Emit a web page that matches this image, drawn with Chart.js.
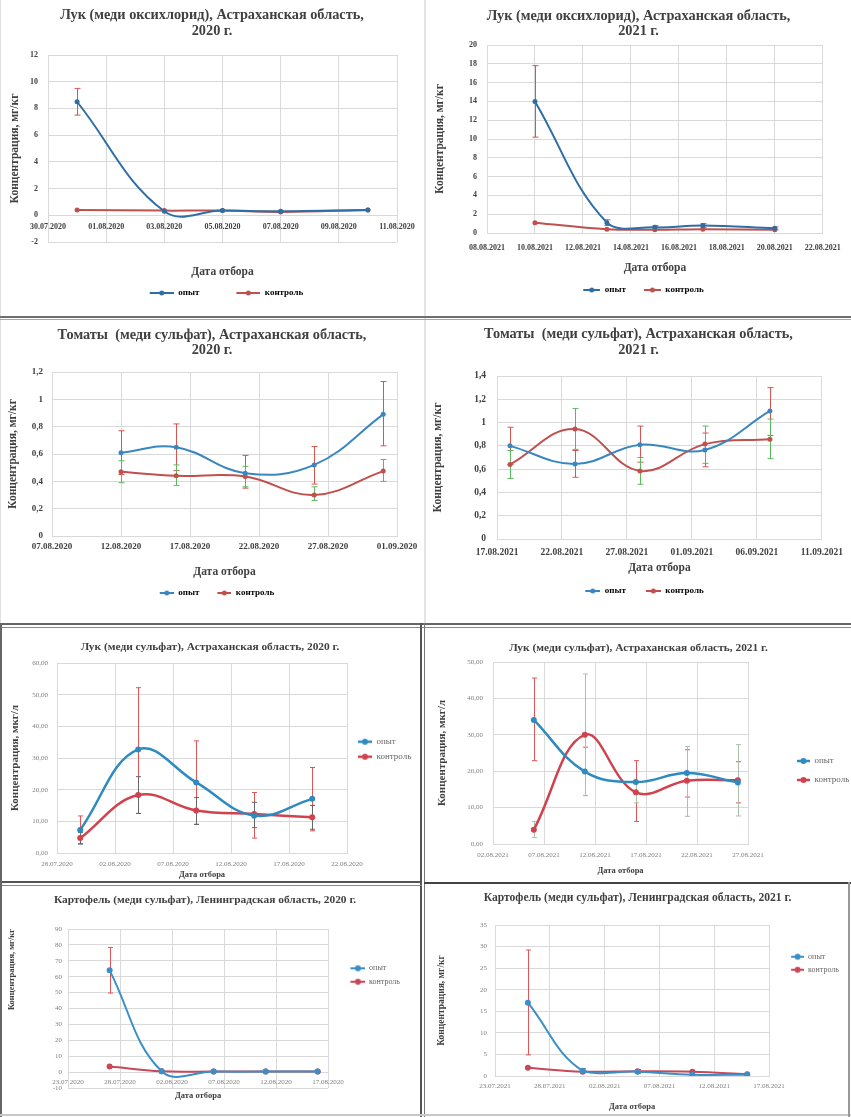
<!DOCTYPE html>
<html lang="ru">
<head>
<meta charset="utf-8">
<title>Концентрация меди: опыт и контроль</title>
<script src="https://cdn.jsdelivr.net/npm/chart.js@4.4.1/dist/chart.umd.min.js"></script>
<style>
  html, body { margin: 0; padding: 0; background: #fff; }
  body { width: 851px; height: 1117px; position: relative; overflow: hidden; }
  .panel { position: absolute; }
  .panel canvas { display: block; }
  .rule { position: absolute; z-index: 2; }
</style>
</head>
<body>
<div class="panel" style="left:0;top:0;width:424px;height:316px"><canvas id="c1"></canvas></div>
<div class="panel" style="left:426px;top:0;width:425px;height:316px"><canvas id="c2"></canvas></div>
<div class="panel" style="left:0;top:320px;width:424px;height:303px"><canvas id="c3"></canvas></div>
<div class="panel" style="left:426px;top:320px;width:425px;height:303px"><canvas id="c4"></canvas></div>
<div class="panel" style="left:0;top:628px;width:420px;height:254px"><canvas id="c5"></canvas></div>
<div class="panel" style="left:426px;top:628px;width:425px;height:254px"><canvas id="c6"></canvas></div>
<div class="panel" style="left:0;top:887px;width:420px;height:228px"><canvas id="c7"></canvas></div>
<div class="panel" style="left:426px;top:887px;width:423px;height:228px"><canvas id="c8"></canvas></div>

<!-- frame lines between the pasted pictures -->
<div class="rule" style="left:424px;top:0;width:2px;height:624px;background:#e4e4e4"></div>
<div class="rule" style="left:0;top:0;width:1px;height:624px;background:#e0e0e0"></div>
<div class="rule" style="left:0;top:316px;width:851px;height:2px;background:#6e6e6e"></div>
<div class="rule" style="left:0;top:319px;width:851px;height:1px;background:#a8a8a8"></div>
<div class="rule" style="left:0;top:623px;width:851px;height:2px;background:#666"></div>
<div class="rule" style="left:0;top:627px;width:851px;height:1px;background:#8a8a8a"></div>
<div class="rule" style="left:420px;top:623px;width:2px;height:494px;background:#555"></div>
<div class="rule" style="left:424px;top:623px;width:1px;height:494px;background:#777"></div>
<div class="rule" style="left:0;top:881px;width:422px;height:2px;background:#555"></div>
<div class="rule" style="left:0;top:885px;width:422px;height:1px;background:#888"></div>
<div class="rule" style="left:424px;top:882px;width:427px;height:2px;background:#444"></div>
<div class="rule" style="left:0;top:623px;width:2px;height:494px;background:#666"></div>
<div class="rule" style="left:0;top:1114px;width:851px;height:2px;background:#c8c8c8"></div>
<div class="rule" style="left:848px;top:882px;width:2px;height:235px;background:#999"></div>

<script>
'use strict';

// ---------- data ----------

// 1. Лук (меди оксихлорид), Астраханская область, 2020 г.
let c1Title = ['Лук (меди оксихлорид), Астраханская область,', '2020 г.'];
let c1Dates = ['31.07.2020', '03.08.2020', '05.08.2020', '07.08.2020', '10.08.2020'];
let c1Opyt = [8.5, 0.3, 0.35, 0.3, 0.4];
let c1Kontrol = [0.4, 0.35, 0.35, 0.25, 0.4];
let c1OpytLow = [7.5, null, null, null, null];
let c1OpytHigh = [9.5, null, null, null, null];
let c1XTicks = ['30.07.2020', '01.08.2020', '03.08.2020', '05.08.2020', '07.08.2020', '09.08.2020', '11.08.2020'];
let c1YTicks = [-2, 12, 2]; // min, max, step

// 2. Лук (меди оксихлорид), Астраханская область, 2021 г.
let c2Title = ['Лук (меди оксихлорид), Астраханская область,', '2021 г.'];
let c2Dates = ['10.08.2021', '13.08.2021', '15.08.2021', '17.08.2021', '20.08.2021'];
let c2Opyt = [14.0, 1.1, 0.6, 0.8, 0.5];
let c2Kontrol = [1.1, 0.4, 0.35, 0.4, 0.35];
let c2OpytLow = [10.2, 0.8, 0.4, 0.6, 0.35];
let c2OpytHigh = [17.8, 1.4, 0.8, 1.0, 0.65];
let c2XTicks = ['08.08.2021', '10.08.2021', '12.08.2021', '14.08.2021', '16.08.2021', '18.08.2021', '20.08.2021', '22.08.2021'];
let c2YTicks = [0, 20, 2];

// 3. Томаты (меди сульфат), Астраханская область, 2020 г.
let c3Title = ['Томаты  (меди сульфат), Астраханская область,', '2020 г.'];
let c3Dates = ['12.08.2020', '16.08.2020', '21.08.2020', '26.08.2020', '31.08.2020'];
let c3Opyt = [0.61, 0.65, 0.46, 0.52, 0.89];
let c3Kontrol = [0.47, 0.44, 0.435, 0.30, 0.475];
let c3OpytLow = [0.45, 0.48, 0.35, 0.38, 0.66];
let c3OpytHigh = [0.77, 0.82, 0.59, 0.655, 1.13];
let c3KontrolLow = [0.39, 0.37, 0.36, 0.26, 0.40];
let c3KontrolHigh = [0.55, 0.52, 0.51, 0.36, 0.56];
let c3XTicks = ['07.08.2020', '12.08.2020', '17.08.2020', '22.08.2020', '27.08.2020', '01.09.2020'];
let c3YTicks = [0, 1.2, 0.2];

// 4. Томаты (меди сульфат), Астраханская область, 2021 г.
let c4Title = ['Томаты  (меди сульфат), Астраханская область,', '2021 г.'];
let c4Dates = ['18.08.2021', '23.08.2021', '28.08.2021', '02.09.2021', '07.09.2021'];
let c4Opyt = [0.80, 0.645, 0.81, 0.765, 1.10];
let c4Kontrol = [0.64, 0.945, 0.585, 0.815, 0.857];
let c4OpytLow = [0.64, 0.53, 0.66, 0.62, 0.89];
let c4OpytHigh = [0.96, 0.76, 0.97, 0.91, 1.30];
let c4KontrolLow = [0.52, 0.77, 0.47, 0.65, 0.69];
let c4KontrolHigh = [0.76, 1.12, 0.70, 0.97, 1.03];
let c4XTicks = ['17.08.2021', '22.08.2021', '27.08.2021', '01.09.2021', '06.09.2021', '11.09.2021'];
let c4YTicks = [0, 1.4, 0.2];

// 5. Лук (меди сульфат), Астраханская область, 2020 г.
let c5Title = ['Лук (меди сульфат), Астраханская область, 2020 г.'];
let c5Dates = ['30.07.2020', '04.08.2020', '09.08.2020', '14.08.2020', '19.08.2020'];
let c5Opyt = [7.3, 32.7, 22.3, 11.8, 17.1];
let c5Kontrol = [4.7, 18.3, 13.4, 12.3, 11.3];
let c5OpytLow = [3.0, 12.5, 9.1, 4.7, 7.0];
let c5OpytHigh = [11.7, 52.2, 35.4, 19.1, 27.0];
let c5KontrolLow = [2.8, 12.5, 9.0, 8.0, 7.5];
let c5KontrolHigh = [6.5, 24.1, 17.5, 16.0, 15.0];
let c5XTicks = ['28.07.2020', '02.08.2020', '07.08.2020', '12.08.2020', '17.08.2020', '22.08.2020'];
let c5YTicks = [0, 60, 10];

// 6. Лук (меди сульфат), Астраханская область, 2021 г.
let c6Title = ['Лук (меди сульфат), Астраханская область, 2021 г.'];
let c6Dates = ['06.08.2021', '11.08.2021', '16.08.2021', '21.08.2021', '26.08.2021'];
let c6Opyt = [34.1, 19.9, 17.0, 19.5, 16.9];
let c6Kontrol = [3.9, 30.0, 14.2, 17.4, 17.5];
let c6OpytLow = [22.9, 13.3, 6.2, 12.9, 11.3];
let c6OpytHigh = [45.6, 26.6, 22.9, 25.9, 22.6];
let c6KontrolLow = [1.8, 13.3, 11.3, 7.6, 7.7];
let c6KontrolHigh = [6.2, 46.7, 17.0, 26.8, 27.3];
let c6XTicks = ['02.08.2021', '07.08.2021', '12.08.2021', '17.08.2021', '22.08.2021', '27.08.2021'];
let c6YTicks = [0, 50, 10];

// 7. Картофель (меди сульфат), Ленинградская область, 2020 г.
let c7Title = ['Картофель (меди сульфат), Ленинградская область, 2020 г.'];
let c7Dates = ['27.07.2020', '01.08.2020', '06.08.2020', '11.08.2020', '16.08.2020'];
let c7Opyt = [64, 0.5, 0.3, 0.3, 0.3];
let c7Kontrol = [3.5, 0.5, 0.4, 0.4, 0.4];
let c7OpytLow = [49.7, null, null, null, null];
let c7OpytHigh = [78.4, null, null, null, null];
let c7XTicks = ['23.07.2020', '28.07.2020', '02.08.2020', '07.08.2020', '12.08.2020', '17.08.2020'];
let c7YTicks = [-10, 90, 10];

// 8. Картофель (меди сульфат), Ленинградская область, 2021 г.
let c8Title = ['Картофель (меди сульфат), Ленинградская область, 2021 г.'];
let c8Dates = ['26.07.2021', '31.07.2021', '05.08.2021', '10.08.2021', '15.08.2021'];
let c8Opyt = [17, 1.2, 1.0, 0.3, 0.3];
let c8Kontrol = [1.9, 1.0, 1.1, 1.0, 0.4];
let c8OpytLow = [4.9, 0.8, 0.6, null, null];
let c8OpytHigh = [29.2, 1.7, 1.5, null, null];
let c8XTicks = ['23.07.2021', '28.07.2021', '02.08.2021', '07.08.2021', '12.08.2021', '17.08.2021'];
let c8YTicks = [0, 35, 5];


// ---------- helpers ----------
let serif = "'Liberation Serif', 'Times New Roman', serif";

// dd.mm.yyyy -> day number, so a linear x axis can hold dates
function toDay(s) {
  let p = s.split('.');
  return Date.UTC(+p[2], +p[1] - 1, +p[0]) / 86400000;
}

function points(dates, values) {
  return dates.map((d, i) => ({ x: toDay(d), y: values[i] }));
}

let intFmt = v => String(v);
let comma1 = v => String(Math.round(v * 10) / 10).replace('.', ',');
let comma2 = v => v.toFixed(2).replace('.', ',');

// excel-like legend key: a short line with a dot in the middle
function legendIcon(color, margin, len, r, lw) {
  let c = document.createElement('canvas');
  c.width = margin + len;
  c.height = 8;
  let g = c.getContext('2d');
  g.strokeStyle = color;
  g.lineWidth = lw;
  g.beginPath();
  g.moveTo(margin, 4);
  g.lineTo(margin + len, 4);
  g.stroke();
  g.fillStyle = color;
  g.beginPath();
  g.arc(margin + len / 2, 4, r, 0, Math.PI * 2);
  g.fill();
  return c;
}

// vertical error bars from the low/high arrays kept on each dataset
let errorBars = {
  id: 'errorBars',
  beforeDatasetsDraw(chart) {
    let ctx = chart.ctx;
    let yScale = chart.scales.y;
    chart.data.datasets.forEach((ds, i) => {
      if (!ds.errLow) return;
      let meta = chart.getDatasetMeta(i);
      ctx.save();
      ctx.strokeStyle = ds.errColor;
      ctx.lineWidth = 1;
      meta.data.forEach((pt, j) => {
        let lo = ds.errLow[j];
        let hi = ds.errHigh[j];
        if (lo == null || hi == null) return;
        let x = Math.round(pt.x) + 0.5;
        let yLo = yScale.getPixelForValue(lo);
        let yHi = yScale.getPixelForValue(hi);
        ctx.beginPath();
        ctx.moveTo(x, yLo);
        ctx.lineTo(x, yHi);
        ctx.moveTo(x - ds.errCap, yLo);
        ctx.lineTo(x + ds.errCap, yLo);
        ctx.moveTo(x - ds.errCap, yHi);
        ctx.lineTo(x + ds.errCap, yHi);
        ctx.stroke();
      });
      ctx.restore();
    });
  }
};

function makeChart(id, d, s) {
  let grid = '#d9d9d9';
  let iconW = s.iconMargin + s.iconLen;
  let icons = [s.blue, s.red].map(c => legendIcon(c, s.iconMargin, s.iconLen, s.pointR, s.lineW));

  let datasets = [
    { label: 'опыт', data: points(d.dates, d.opyt), borderColor: s.blue,
      errLow: d.opytLow, errHigh: d.opytHigh, errColor: s.opytErr },
    { label: 'контроль', data: points(d.dates, d.kontrol), borderColor: s.red,
      errLow: d.kontrolLow, errHigh: d.kontrolHigh, errColor: s.kontrolErr }
  ];
  datasets.forEach(ds => {
    ds.backgroundColor = ds.borderColor;
    ds.pointBackgroundColor = ds.borderColor;
    ds.borderWidth = s.lineW;
    ds.tension = 0.4;
    ds.pointRadius = s.pointR;
    ds.pointHoverRadius = s.pointR;
    ds.pointBorderWidth = 0;
    ds.errCap = s.cap;
  });

  let xTitle = { display: true, text: 'Дата отбора', color: s.textColor, font: s.xTitleFont,
    padding: { top: 0, bottom: s.xTitlePad } };

  let scales = {
    x: {
      type: 'linear',
      position: s.cross ? { y: 0 } : 'bottom',
      min: toDay(d.xTicks[0]),
      max: toDay(d.xTicks[d.xTicks.length - 1]),
      afterBuildTicks: axis => { axis.ticks = d.xTicks.map(t => ({ value: toDay(t) })); },
      ticks: { autoSkip: false, maxRotation: 0, padding: s.xTickPad, font: s.tickFont, color: s.tickColor,
        callback: (v, i) => d.xTicks[i] },
      grid: { color: grid, drawTicks: false },
      border: { color: grid },
      title: s.cross ? { display: false } : xTitle
    },
    y: {
      min: d.yTicks[0],
      max: d.yTicks[1],
      ticks: { stepSize: d.yTicks[2], padding: s.yTickPad, font: s.tickFont, color: s.tickColor, callback: s.yFmt },
      grid: { color: grid, drawTicks: false },
      border: { color: grid },
      title: { display: true, text: s.yTitle, color: s.textColor, font: s.yTitleFont, align: s.yTitleAlign || 'center',
        padding: { top: s.yTitlePad, bottom: 0 } },
      afterFit: scale => { scale.width = s.yAxisW; }
    }
  };
  if (s.cross) {
    // bottom strip that only carries the axis title
    scales.xt = {
      type: 'linear', position: 'bottom',
      grid: { display: false, drawTicks: false }, border: { display: false },
      ticks: { display: false },
      title: xTitle,
      afterFit: scale => { scale.height = s.xAxisH; }
    };
  } else {
    scales.x.afterFit = scale => { scale.height = s.xAxisH; };
  }
  if (s.rightW) {
    // empty strip on the right so the title and legend stay centred on the picture
    scales.yr = {
      type: 'linear', position: 'right',
      grid: { display: false, drawTicks: false }, border: { display: false },
      ticks: { display: false },
      afterFit: scale => { scale.width = s.rightW; }
    };
  }

  new Chart(document.getElementById(id), {
    type: 'line',
    data: { datasets: datasets },
    options: {
      responsive: true,
      maintainAspectRatio: false,
      animation: false,
      layout: { padding: { left: 0, top: 0, right: s.padRight || 0, bottom: s.padBottom || 0 } },
      plugins: {
        tooltip: { enabled: false },
        title: {
          display: true, text: d.title, color: s.textColor,
          font: { family: serif, size: s.titleSize, weight: 'bold', lineHeight: s.titleLH },
          padding: { top: s.titleTop, bottom: s.titleBottom }
        },
        legend: {
          position: s.legendPos,
          align: s.legendPos === 'right' ? 'start' : 'center',
          maxWidth: s.legendMaxW,
          title: s.legendTop
            ? { display: true, text: '', font: { size: 1, lineHeight: 1 }, padding: { top: s.legendTop - 1, bottom: 0 } }
            : { display: false },
          labels: {
            usePointStyle: true,
            pointStyleWidth: iconW,
            padding: s.legendPad,
            font: s.legendFont,
            color: s.textColor,
            generateLabels: chart => chart.data.datasets.map((ds, i) => ({
              text: ds.label, pointStyle: icons[i], fillStyle: ds.borderColor,
              strokeStyle: ds.borderColor, lineWidth: 0, hidden: false, datasetIndex: i
            }))
          }
        }
      },
      scales: scales
    },
    plugins: [errorBars]
  });
}


// ---------- styles ----------
let boldA = size => ({ family: serif, size: size, weight: 'bold' });

let oldExcel = {
  blue: '#2F6EA5', red: '#C0504D', lineW: 2, pointR: 2.5, cap: 3,
  textColor: '#404040', tickColor: '#404040',
  titleSize: 14.3, titleLH: '16.5px',
  yTitle: 'Концентрация, мг/кг', yTitleFont: boldA(11.5), xTitleFont: boldA(11.5),
  tickFont: boldA(8), yFmt: intFmt,
  legendPos: 'bottom', legendFont: boldA(9), legendPad: 8,
  opytErr: '#D9534F', kontrolErr: '#5CB85C'
};

let newExcel = {
  blue: '#2E8BC0', red: '#D0424D', lineW: 2.5, pointR: 3, cap: 2.5,
  textColor: '#404040', tickColor: '#808080',
  titleSize: 11.4, titleLH: '14.4px',
  yTitle: 'Концентрация, мкг/л', yTitleFont: boldA(11), xTitleFont: boldA(8.5),
  tickFont: { family: serif, size: 7 }, yFmt: comma2,
  legendPos: 'right', legendFont: { family: serif, size: 9 },
  opytErr: '#E05555', kontrolErr: '#666666'
};


// ---------- charts ----------
makeChart('c1', {
  title: c1Title, dates: c1Dates, opyt: c1Opyt, kontrol: c1Kontrol,
  opytLow: c1OpytLow, opytHigh: c1OpytHigh, xTicks: c1XTicks, yTicks: c1YTicks
}, Object.assign({}, oldExcel, {
  titleTop: 7, titleBottom: 15, yAxisW: 48, yTitlePad: 8.1, yTickPad: 10,
  cross: true, xTickPad: 7.2, xAxisH: 38.5, xTitlePad: 1.6, rightW: 27,
  iconMargin: 29, iconLen: 24, padBottom: 8.5
}));

makeChart('c2', {
  title: c2Title, dates: c2Dates, opyt: c2Opyt, kontrol: c2Kontrol,
  opytLow: c2OpytLow, opytHigh: c2OpytHigh, xTicks: c2XTicks, yTicks: c2YTicks
}, Object.assign({}, oldExcel, {
  titleLH: '15px', titleTop: 9.2, titleBottom: 5.8, yAxisW: 61, yTitlePad: 7.1, yTickPad: 10,
  xTickPad: 10.2, xAxisH: 44.5, xTitlePad: 2.6, rightW: 26,
  iconMargin: 10, iconLen: 17, padBottom: 11.5
}));

makeChart('c3', {
  title: c3Title, dates: c3Dates, opyt: c3Opyt, kontrol: c3Kontrol,
  opytLow: c3OpytLow, opytHigh: c3OpytHigh, kontrolLow: c3KontrolLow, kontrolHigh: c3KontrolHigh,
  xTicks: c3XTicks, yTicks: c3YTicks
}, Object.assign({}, oldExcel, {
  blue: '#3A87C0', titleLH: '15px', titleTop: 7.5, titleBottom: 14.5, yAxisW: 52, yTitlePad: 6.1, yTickPad: 9,
  tickFont: boldA(9), yFmt: comma1,
  xTickPad: 5.3, xAxisH: 44.5, xTitlePad: 1.9, rightW: 27,
  iconMargin: 10, iconLen: 14, padBottom: 15.5
}));

makeChart('c4', {
  title: c4Title, dates: c4Dates, opyt: c4Opyt, kontrol: c4Kontrol,
  opytLow: c4OpytLow, opytHigh: c4OpytHigh, kontrolLow: c4KontrolLow, kontrolHigh: c4KontrolHigh,
  xTicks: c4XTicks, yTicks: c4YTicks
}, Object.assign({}, oldExcel, {
  blue: '#3A87C0', titleLH: '16px', titleTop: 6, titleBottom: 18, yAxisW: 71, yTitlePad: 5.1, yTickPad: 11,
  tickFont: boldA(9.5), yFmt: comma1,
  xTickPad: 8, xAxisH: 39.5, xTitlePad: 3.6, rightW: 29,
  iconMargin: 12, iconLen: 15, padBottom: 17.5
}));

makeChart('c5', {
  title: c5Title, dates: c5Dates, opyt: c5Opyt, kontrol: c5Kontrol,
  opytLow: c5OpytLow, opytHigh: c5OpytHigh, kontrolLow: c5KontrolLow, kontrolHigh: c5KontrolHigh,
  xTicks: c5XTicks, yTicks: c5YTicks
}, Object.assign({}, newExcel, {
  titleTop: 11.5, titleBottom: 9.1, yAxisW: 57, yTitlePad: 8.4, yTickPad: 9,
  xTickPad: 6.8, xAxisH: 29, xTitlePad: 2.6,
  legendPad: 6, iconMargin: 5, iconLen: 14, legendMaxW: 73, legendTop: 103.2
}));

makeChart('c6', {
  title: c6Title, dates: c6Dates, opyt: c6Opyt, kontrol: c6Kontrol,
  opytLow: c6OpytLow, opytHigh: c6OpytHigh, kontrolLow: c6KontrolLow, kontrolHigh: c6KontrolHigh,
  xTicks: c6XTicks, yTicks: c6YTicks
}, Object.assign({}, newExcel, {
  kontrolErr: '#A9C0A9',
  titleTop: 13.1, titleBottom: 6.5, yAxisW: 67, yTitlePad: 9.4, yTickPad: 10,
  xTickPad: 6.8, xAxisH: 38, xTitlePad: 5.9,
  legendPad: 10, iconMargin: 39, iconLen: 13, legendMaxW: 103, legendTop: 118.5
}));

makeChart('c7', {
  title: c7Title, dates: c7Dates, opyt: c7Opyt, kontrol: c7Kontrol,
  opytLow: c7OpytLow, opytHigh: c7OpytHigh, xTicks: c7XTicks, yTicks: c7YTicks
}, Object.assign({}, newExcel, {
  blue: '#3A8FC8', red: '#C8485A', lineW: 2, yFmt: intFmt,
  yTitle: 'Концентрация, мг/кг', yTitleFont: boldA(8.5), yTitleAlign: 'end',
  titleTop: 5.8, titleBottom: 21.8, yAxisW: 68, yTitlePad: 6.9, yTickPad: 6,
  cross: true, xTickPad: 5.5, xAxisH: 27, xTitlePad: 13.9,
  legendFont: { family: serif, size: 8 }, legendPad: 5.4, iconMargin: 16.6, iconLen: 15,
  legendMaxW: 84, padRight: 10, legendTop: 71.9
}));

makeChart('c8', {
  title: c8Title, dates: c8Dates, opyt: c8Opyt, kontrol: c8Kontrol,
  opytLow: c8OpytLow, opytHigh: c8OpytHigh, xTicks: c8XTicks, yTicks: c8YTicks
}, Object.assign({}, newExcel, {
  blue: '#3A8FC8', red: '#C8485A', lineW: 2, yFmt: intFmt, titleSize: 11.6,
  yTitle: 'Концентрация, мг/кг', yTitleFont: boldA(9.5),
  titleTop: 4.1, titleBottom: 19.5, yAxisW: 69, yTitlePad: 10.3, yTickPad: 8,
  xTickPad: 5.5, xAxisH: 39, xTitlePad: 3.2,
  legendFont: { family: serif, size: 8 }, legendPad: 5, iconMargin: 17, iconLen: 13,
  legendMaxW: 81, legendTop: 60.7
}));
</script>
</body>
</html>
